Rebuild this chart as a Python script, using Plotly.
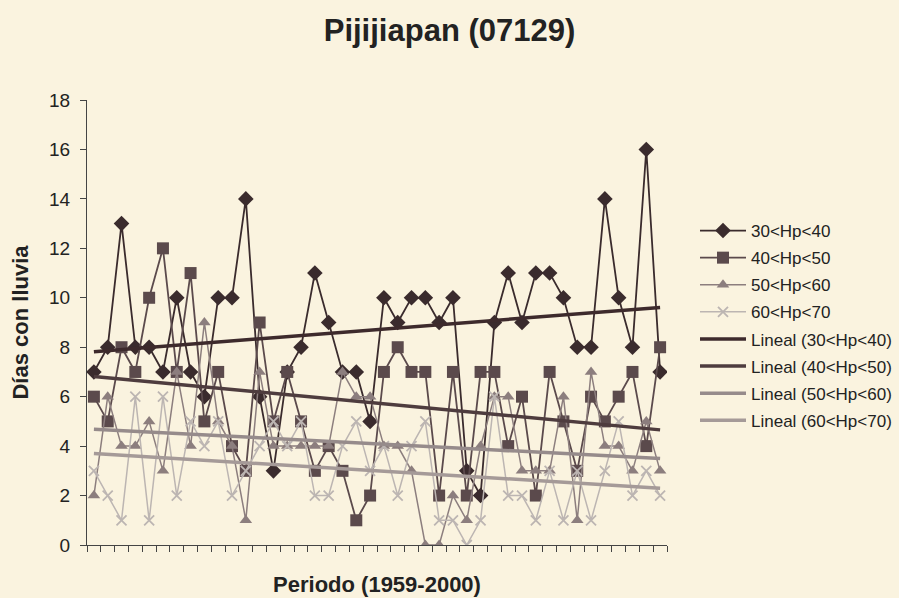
import numpy as np
import plotly.graph_objects as go

years = list(range(1959, 2001))
s30 = [7,8,13,8,8,7,10,7,6,10,10,14,6,3,7,8,11,9,7,7,5,10,9,10,10,9,10,3,2,9,11,9,11,11,10,8,8,14,10,8,16,7]
s40 = [6,5,8,7,10,12,7,11,5,7,4,3,9,5,7,5,3,4,3,1,2,7,8,7,7,2,7,2,7,7,4,6,2,7,5,3,6,5,6,7,4,8]
s50 = [2,6,4,4,5,3,7,4,9,5,4,1,7,4,4,4,4,4,7,6,6,4,4,3,0,0,2,1,4,6,6,3,3,3,6,1,7,4,4,3,5,3]
s60 = [3,2,1,6,1,6,2,5,4,5,2,3,4,5,4,5,2,2,4,5,3,4,2,4,5,1,1,0,1,6,2,2,1,3,1,3,1,3,5,2,3,2]
names = ["30<Hp<40", "40<Hp<50", "50<Hp<60", "60<Hp<70"]
yticks = [0, 2, 4, 6, 8, 10, 12, 14, 16, 18]

x = np.arange(len(years))
font = "Liberation Sans, Arial, sans-serif"
bg = "#faf3df"

fig = go.Figure()
styles = [
    dict(color="#3a2b2d", symbol="diamond", size=12, lw=1.8),
    dict(color="#5b4a4c", symbol="square", size=12, lw=1.8),
    dict(color="#8c7e7e", symbol="triangle-up", size=11, lw=1.5),
    dict(color="#bcb5b2", symbol="x-thin-open", size=10, lw=1.5),
]
for nm, s, st in zip(names, [s30, s40, s50, s60], styles):
    mk = dict(symbol=st["symbol"], size=st["size"], color=st["color"])
    if st["symbol"] == "x-thin-open":
        mk["line"] = dict(color=st["color"], width=1.8)
    else:
        mk["line"] = dict(width=0)
    fig.add_trace(go.Scatter(x=x, y=s, mode="lines+markers", name=nm,
                             line=dict(color=st["color"], width=st["lw"]),
                             marker=mk, legendgroup=nm))

tcolors = ["#3d2a2c", "#4e3c3e", "#968b8b", "#a59a98"]
for nm, s, c in zip(names, [s30, s40, s50, s60], tcolors):
    k, b = np.polyfit(x, s, 1)
    fig.add_trace(go.Scatter(x=x, y=k * x + b, mode="lines", name=f"Lineal ({nm})",
                             line=dict(color=c, width=3.5), legendgroup="L" + nm))

fig.update_layout(
    width=899, height=598,
    paper_bgcolor=bg, plot_bgcolor=bg,
    margin=dict(l=87, r=232, t=100, b=53, autoexpand=False),
    font=dict(family=font, size=15, color="#222"),
    title=dict(text="<b>Pijijiapan (07129)</b>", x=0.5, xref="container",
               y=0.95, yref="container", yanchor="middle",
               font=dict(size=31, family=font, color="#222")),
    showlegend=True,
    legend=dict(x=695 / 899, xref="container", xanchor="left",
                y=1 - 213 / 598, yref="container", yanchor="top",
                bgcolor="rgba(0,0,0,0)", font=dict(size=17, family=font, color="#222"),
                tracegroupgap=2, traceorder="grouped", itemwidth=46),
    xaxis=dict(range=[-0.5, len(years) - 0.5], tickmode="array",
               tickvals=list(np.arange(-0.5, len(years), 1.0)),
               showticklabels=False, ticks="outside", ticklen=6, tickcolor="#444",
               showline=True, linecolor="#444", linewidth=1, showgrid=False, zeroline=False,
               automargin=False,
               title=dict(text="<b>Periodo (1959-2000)</b>", font=dict(size=22), standoff=25)),
    yaxis=dict(range=[0, 18], tickvals=yticks, ticks="outside", ticklen=6, tickcolor="#444",
               showline=True, linecolor="#444", linewidth=1, showgrid=False, zeroline=False,
               tickfont=dict(size=19), ticklabelstandoff=6, automargin=False,
               title=dict(text="<b>Días con lluvia</b>", font=dict(size=22), standoff=14)),
)
fig.write_html("out.html", config={"displayModeBar": False},
               post_script="document.body.style.margin='0';document.body.style.background='#faf3df';")
